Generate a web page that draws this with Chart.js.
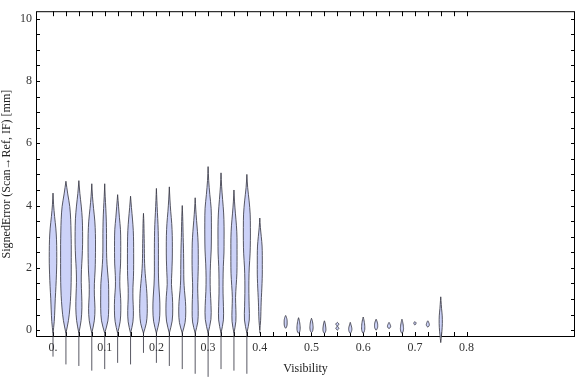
<!DOCTYPE html>
<html>
<head>
<meta charset="utf-8">
<script src="https://cdn.jsdelivr.net/npm/chart.js@4.4.1/dist/chart.umd.min.js"></script>
<style>
  html, body { margin: 0; padding: 0; background: #fff; }
  canvas { display: block; }
</style>
</head>
<body>
<canvas id="violinas" width="576" height="377"></canvas>
<script>
// visibility bins (x position of each violin)
const centers = [0, 0.025, 0.05, 0.075, 0.1, 0.125, 0.15, 0.175, 0.2, 0.225, 0.25, 0.275, 0.3, 0.325, 0.35, 0.375, 0.4,
  0.45, 0.475, 0.5, 0.525, 0.55, 0.575, 0.6, 0.625, 0.65, 0.675, 0.7, 0.725, 0.75];
// lowest value (end of thin lower tail)
const lows = [-0.85, -1.1, -1.15, -1.3, -1.25, -1.05, -1.1, -0.73, -1.05, -1.15, -1.25, -1.4, -1.5, -1.25, -1.3, -1.4, -0.1,
  0.06, -0.1, -0.08, -0.1, 0.0, -0.1, -0.1, 0.0, 0.05, -0.1, 0.17, 0.1, -0.4];
// highest value (tip of the violin)
const highs = [4.4, 4.78, 4.8, 4.7, 4.7, 4.35, 4.3, 3.75, 4.55, 4.6, 4.0, 4.25, 5.25, 5.05, 4.5, 5.0, 3.6,
  0.47, 0.4, 0.38, 0.3, 0.25, 0.25, 0.42, 0.35, 0.25, 0.35, 0.27, 0.3, 1.07];
// where the density body starts (below it only the thin tail)
const bodyLows = [-0.1, -0.1, -0.1, -0.1, -0.1, -0.1, -0.1, -0.1, -0.1, -0.1, -0.1, -0.1, -0.1, -0.1, -0.1, -0.1, 0.0,
  0.06, -0.1, -0.08, -0.1, 0.0, -0.1, -0.1, 0.0, 0.05, -0.1, 0.17, 0.1, -0.4];
// relative density at 11 equally spaced levels between bodyLow and high
const densidades = [
  [0.23, 0.34, 0.43, 0.55, 0.64, 0.7, 0.7, 0.66, 0.53, 0.3, 0.11],
  [0.47, 0.74, 0.9, 0.98, 1, 1, 1, 0.96, 0.89, 0.72, 0.34],
  [0.42, 0.57, 0.53, 0.45, 0.49, 0.62, 0.7, 0.7, 0.64, 0.45, 0.19],
  [0.47, 0.6, 0.49, 0.49, 0.62, 0.68, 0.7, 0.68, 0.57, 0.34, 0.13],
  [0.6, 0.75, 0.75, 0.72, 0.53, 0.38, 0.34, 0.34, 0.3, 0.21, 0.09],
  [0.47, 0.6, 0.57, 0.42, 0.43, 0.55, 0.58, 0.58, 0.53, 0.34, 0.17],
  [0.45, 0.53, 0.45, 0.45, 0.55, 0.58, 0.58, 0.57, 0.51, 0.36, 0.17],
  [0.53, 0.7, 0.7, 0.64, 0.49, 0.32, 0.21, 0.17, 0.15, 0.11, 0.08],
  [0.53, 0.66, 0.6, 0.45, 0.38, 0.38, 0.38, 0.36, 0.3, 0.19, 0.09],
  [0.53, 0.64, 0.57, 0.4, 0.47, 0.55, 0.57, 0.55, 0.45, 0.26, 0.11],
  [0.53, 0.66, 0.6, 0.42, 0.3, 0.28, 0.26, 0.23, 0.17, 0.13, 0.08],
  [0.49, 0.57, 0.53, 0.47, 0.53, 0.58, 0.58, 0.55, 0.43, 0.26, 0.11],
  [0.53, 0.55, 0.42, 0.38, 0.45, 0.58, 0.62, 0.62, 0.57, 0.32, 0.11],
  [0.45, 0.45, 0.38, 0.38, 0.43, 0.55, 0.57, 0.57, 0.49, 0.3, 0.11],
  [0.36, 0.36, 0.3, 0.42, 0.55, 0.58, 0.58, 0.57, 0.47, 0.28, 0.11],
  [0.45, 0.43, 0.38, 0.38, 0.45, 0.6, 0.66, 0.66, 0.62, 0.42, 0.15],
  [0.15, 0.21, 0.26, 0.34, 0.42, 0.47, 0.47, 0.47, 0.43, 0.28, 0.11],
  [0.15, 0.22, 0.26, 0.28, 0.28, 0.28, 0.28, 0.26, 0.22, 0.17, 0.1],
  [0.2, 0.26, 0.3, 0.3, 0.3, 0.28, 0.25, 0.22, 0.18, 0.13, 0.08],
  [0.18, 0.25, 0.28, 0.3, 0.3, 0.28, 0.26, 0.23, 0.2, 0.15, 0.08],
  [0.18, 0.24, 0.28, 0.28, 0.27, 0.25, 0.22, 0.2, 0.16, 0.12, 0.07],
  [0.15, 0.25, 0.28, 0.2, 0.1, 0.06, 0.1, 0.2, 0.28, 0.25, 0.15],
  [0.15, 0.22, 0.27, 0.3, 0.3, 0.28, 0.25, 0.2, 0.15, 0.1, 0.06],
  [0.18, 0.25, 0.3, 0.3, 0.3, 0.28, 0.26, 0.22, 0.18, 0.13, 0.07],
  [0.15, 0.22, 0.28, 0.3, 0.3, 0.3, 0.28, 0.25, 0.2, 0.15, 0.08],
  [0.15, 0.22, 0.28, 0.3, 0.3, 0.28, 0.25, 0.2, 0.15, 0.12, 0.07],
  [0.18, 0.24, 0.28, 0.3, 0.28, 0.26, 0.24, 0.2, 0.16, 0.12, 0.07],
  [0.1, 0.15, 0.18, 0.2, 0.2, 0.2, 0.2, 0.2, 0.18, 0.15, 0.1],
  [0.15, 0.22, 0.26, 0.28, 0.28, 0.26, 0.24, 0.2, 0.16, 0.12, 0.08],
  [0.08, 0.15, 0.22, 0.27, 0.3, 0.3, 0.28, 0.22, 0.15, 0.1, 0.05]
];
// tick labels
const xLabelValues = [0, 0.1, 0.2, 0.3, 0.4, 0.5, 0.6, 0.7, 0.8];
const xLabels = ['0.', '0.1', '0.2', '0.3', '0.4', '0.5', '0.6', '0.7', '0.8'];
const yLabelValues = [0, 2, 4, 6, 8, 10];
const yLabels = ['0', '2', '4', '6', '8', '10'];

const meiaLargura = 0.0103; // half width (x units) for density 1
const corFundo = 'rgb(204,210,248)';
const corBorda = 'rgba(60,60,72,0.85)';
const fonte = {family: "'Liberation Serif', 'DejaVu Serif', serif", size: 12};

// minor tick positions
const xTicks = [];
for (let i = 0; i <= 32; i++) xTicks.push(i * 0.025);
const yTicks = [];
for (let i = 0; i <= 20; i++) yTicks.push(i * 0.5);

const datasets = [];
centers.forEach((c, i) => {
  const lo = bodyLows[i], hi = highs[i];
  // thin lower tail
  if (lows[i] < lo) {
    datasets.push({
      data: [{x: c, y: lows[i]}, {x: c, y: lo}],
      showLine: true, borderColor: corBorda, borderWidth: 1,
      pointRadius: 0, fill: false, clip: false, order: 2
    });
  }
  // density body
  const d = densidades[i];
  const passo = (hi - lo) / (d.length + 1);
  const pts = [{x: c, y: lo}, {x: c, y: lo}];
  for (let k = 0; k < d.length; k++) pts.push({x: c + d[k] * meiaLargura, y: lo + passo * (k + 1)});
  pts.push({x: c, y: hi}, {x: c, y: hi});
  for (let k = d.length - 1; k >= 0; k--) pts.push({x: c - d[k] * meiaLargura, y: lo + passo * (k + 1)});
  pts.push({x: c, y: lo}, {x: c, y: lo});
  datasets.push({
    data: pts, showLine: true, tension: 0.35,
    borderColor: corBorda, borderWidth: 1, backgroundColor: corFundo,
    pointRadius: 0, fill: 'shape', clip: false, order: 1
  });
});

// frame with inward ticks
const moldura = {
  id: 'moldura',
  beforeDatasetsDraw(chart) {
    const {ctx, chartArea: a, scales: {x, y}} = chart;
    ctx.save();
    ctx.strokeStyle = '#000';
    ctx.lineWidth = 1;
    ctx.strokeRect(a.left + 0.5, a.top + 0.5, a.right - a.left - 1, a.bottom - a.top - 1);
    ctx.beginPath();
    xTicks.forEach(v => {
      const px = Math.round(x.getPixelForValue(v)) + 0.5;
      ctx.moveTo(px, a.bottom); ctx.lineTo(px, a.bottom - 5);
      ctx.moveTo(px, a.top); ctx.lineTo(px, a.top + 5);
    });
    yTicks.forEach(v => {
      const py = Math.round(y.getPixelForValue(v)) + 0.5;
      ctx.moveTo(a.left, py); ctx.lineTo(a.left + 4, py);
      ctx.moveTo(a.right, py); ctx.lineTo(a.right - 4, py);
    });
    ctx.stroke();
    ctx.restore();
  }
};

new Chart(document.getElementById('violinas'), {
  type: 'scatter',
  data: {datasets: datasets},
  plugins: [moldura],
  options: {
    responsive: false,
    animation: false,
    events: [],
    layout: {padding: {top: 4, right: 1, left: 0, bottom: 0}},
    plugins: {legend: {display: false}, tooltip: {enabled: false}},
    scales: {
      x: {
        type: 'linear',
        min: -0.0329,
        max: 1.0097,
        afterBuildTicks: s => { s.ticks = xLabelValues.map(v => ({value: v})); },
        afterFit: s => { s.height = 40; },
        grid: {display: false, drawTicks: false},
        border: {display: false},
        ticks: {
          autoSkip: false, maxRotation: 0, padding: 4, color: '#333', font: fonte,
          callback: (v, idx) => xLabels[idx]
        },
        title: {display: true, text: 'Visibility', color: '#222', font: fonte, padding: {top: 0, bottom: 1}}
      },
      y: {
        type: 'linear',
        min: -0.22,
        max: 10.24,
        afterBuildTicks: s => { s.ticks = yLabelValues.map(v => ({value: v})); },
        afterFit: s => { s.width = 36; },
        grid: {display: false, drawTicks: false},
        border: {display: false},
        ticks: {
          autoSkip: false, padding: 4, color: '#333', font: fonte,
          callback: (v, idx) => yLabels[idx]
        },
        title: {display: true, text: 'SignedError (Scan\u2192Ref, IF) [mm]', color: '#222', font: fonte, padding: {top: 0, bottom: 0}}
      }
    }
  }
});
</script>
</body>
</html>
